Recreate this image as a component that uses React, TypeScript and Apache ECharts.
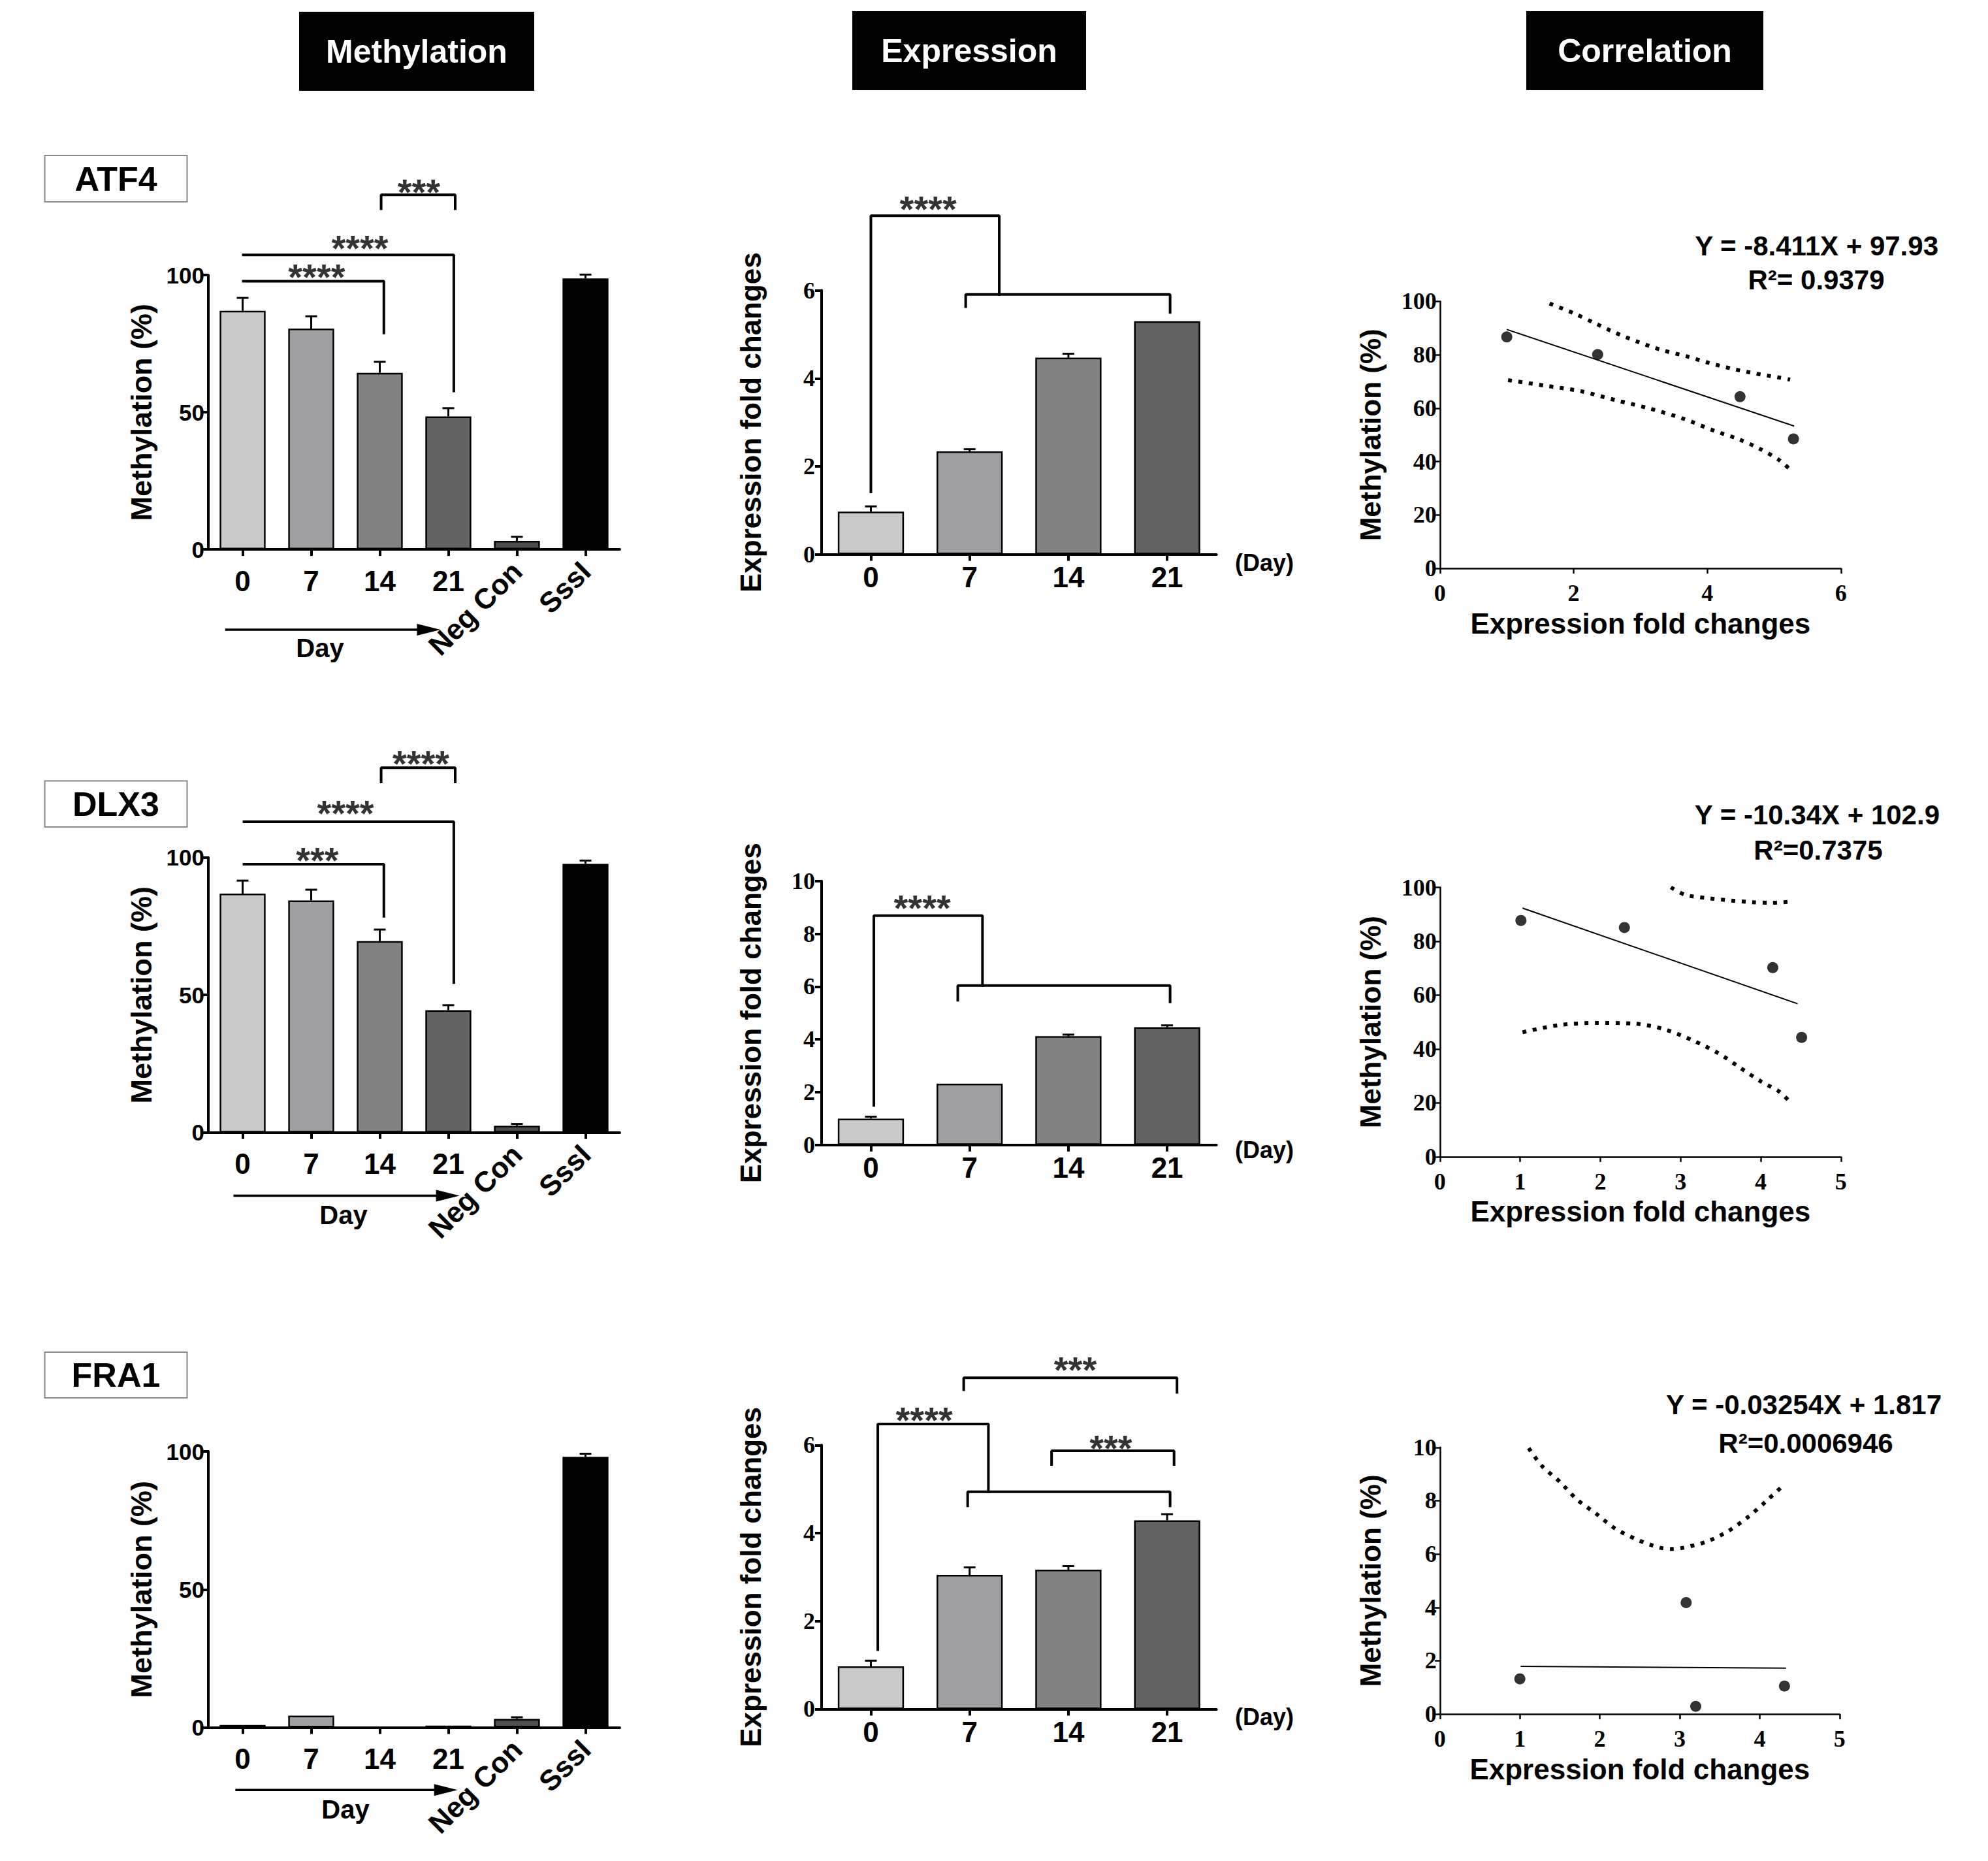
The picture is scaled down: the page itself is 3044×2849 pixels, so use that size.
import React, { useEffect, useRef } from "react";
import * as echarts from "echarts";

const FIG_W = 3044;
const FIG_H = 2849;
const SANS = "'Liberation Sans', Arial, Helvetica, sans-serif";
const SERIF = "'Liberation Serif', 'Times New Roman', serif";

// ---------------- DATA ----------------
const columnTitles = ["Methylation", "Expression", "Correlation"];
const geneNames = ["ATF4", "DLX3", "FRA1"];

const methylationCategories = ["0", "7", "14", "21", "Neg Con", "SssI"];
const expressionCategories = ["0", "7", "14", "21"];

const methylationTicks = [0, 50, 100];
const atf4ExpressionTicks = [0, 2, 4, 6];
const dlx3ExpressionTicks = [0, 2, 4, 6, 8, 10];
const fra1ExpressionTicks = [0, 2, 4, 6];
const atf4CorrXTicks = [0, 2, 4, 6];
const corrXTicks5 = [0, 1, 2, 3, 4, 5];
const corrYTicks100 = [0, 20, 40, 60, 80, 100];
const corrYTicks10 = [0, 2, 4, 6, 8, 10];

const atf4Methylation = [87.0, 80.5, 64.4, 48.5, 3.1, 98.8];
const atf4MethylationErr = [4.7, 4.5, 4.0, 3.0, 1.5, 1.4];
const dlx3Methylation = [86.9, 84.4, 69.6, 44.5, 2.4, 97.7];
const dlx3MethylationErr = [4.7, 3.9, 4.2, 1.8, 0.7, 1.2];
const fra1Methylation = [0.9, 4.3, 0.1, 0.7, 3.1, 98.1];
const fra1MethylationErr = [0, 0, 0, 0, 0.6, 1.1];

const atf4Expression = [0.97, 2.34, 4.47, 5.3];
const atf4ExpressionErr = [0.12, 0.05, 0.09, 0.0];
const dlx3Expression = [1.0, 2.32, 4.12, 4.46];
const dlx3ExpressionErr = [0.07, 0.0, 0.06, 0.07];
const fra1Expression = [0.97, 3.05, 3.17, 4.29];
const fra1ExpressionErr = [0.13, 0.17, 0.08, 0.14];

// significance brackets (x = category position, y = axis value)
const atf4MethBrackets = [
  [[2.02, 124.2], [2.02, 129.3], [3.1, 129.3], [3.1, 124.2]],
  [[0.01, 107.4], [3.08, 107.4], [3.08, 57.8]],
  [[0.01, 97.8], [2.06, 97.8], [2.06, 78.9]],
];
const atf4MethStars: [string, number, number][] = [["***", 2.57, 132.8], ["****", 1.71, 112.3], ["****", 1.08, 101.9]];
const dlx3MethBrackets = [
  [[2.02, 127.5], [2.02, 132.7], [3.1, 132.7], [3.1, 127.5]],
  [[0.02, 113.0], [3.08, 113.0], [3.08, 54.5]],
  [[0.02, 97.6], [2.06, 97.6], [2.06, 78.6]],
];
const dlx3MethStars: [string, number, number][] = [["****", 2.6, 136.6], ["****", 1.5, 118.5], ["***", 1.09, 101.6]];
const atf4ExprBrackets = [
  [[0, 1.42], [0, 7.7], [1.3, 7.7], [1.3, 5.91]],
  [[0.96, 5.63], [0.96, 5.91], [3.03, 5.91], [3.03, 5.5]],
];
const atf4ExprStars: [string, number, number][] = [["****", 0.58, 8.0]];
const dlx3ExprBrackets = [
  [[0.03, 1.5], [0.03, 8.69], [1.13, 8.69], [1.13, 6.04]],
  [[0.88, 5.48], [0.88, 6.04], [3.03, 6.04], [3.03, 5.42]],
];
const dlx3ExprStars: [string, number, number][] = [["****", 0.52, 9.23]];
const fra1ExprBrackets = [
  [[0.94, 7.26], [0.94, 7.53], [3.1, 7.53], [3.1, 7.2]],
  [[0.07, 1.35], [0.07, 6.48], [1.19, 6.48], [1.19, 4.94]],
  [[0.98, 4.62], [0.98, 4.94], [3.03, 4.94], [3.03, 4.62]],
  [[1.83, 5.56], [1.83, 5.87], [3.07, 5.87], [3.07, 5.56]],
];
const fra1ExprStars: [string, number, number][] = [["***", 2.07, 7.87], ["****", 0.54, 6.72], ["***", 2.43, 6.08]];

// correlation panels
const atf4CorrPoints = [[1.0, 86.7], [2.36, 80.1], [4.49, 64.3], [5.29, 48.5]];
const atf4CorrFit = [[1.0, 89.5], [5.3, 53.3]];
const atf4CorrUpper = [[1.64, 99.2], [1.99, 95.7], [2.28, 92.3], [2.63, 88.2], [2.98, 84.7], [3.33, 81.7], [3.68, 79.5], [4.02, 77.0], [4.37, 74.8], [4.72, 73.0], [5.07, 71.5], [5.24, 70.7]];
const atf4CorrLower = [[1.02, 70.5], [1.56, 68.5], [2.12, 66.3], [2.63, 63.0], [3.12, 60.0], [3.65, 56.0], [4.11, 51.5], [4.46, 48.5], [4.77, 45.0], [5.08, 40.5], [5.24, 37.0]];
const atf4Equation = ["Y = -8.411X + 97.93", "R²= 0.9379"];

const dlx3CorrPoints = [[1.01, 87.7], [2.3, 85.1], [4.15, 70.2], [4.51, 44.3]];
const dlx3CorrFit = [[1.03, 92.3], [4.46, 56.8]];
const dlx3CorrUpper = [[2.88, 100], [3.06, 97.2], [3.31, 96.1], [3.64, 95.1], [3.89, 94.5], [4.13, 94.3], [4.39, 94.7]];
const dlx3CorrLower = [[1.03, 46.2], [1.47, 48.8], [1.95, 49.7], [2.43, 49.4], [2.8, 47.3], [3.16, 43.1], [3.48, 38.3], [3.74, 33.1], [4.01, 27.8], [4.23, 24.2], [4.36, 20.5]];
const dlx3Equation = ["Y = -10.34X + 102.9", "R²=0.7375"];

const fra1CorrPoints = [[1.0, 1.32], [3.08, 4.18], [3.2, 0.29], [4.31, 1.05]];
const fra1CorrFit = [[1.01, 1.79], [4.33, 1.72]];
const fra1CorrUpper = [[1.11, 9.97], [1.28, 9.29], [1.5, 8.71], [1.72, 8.03], [1.96, 7.5], [2.19, 6.96], [2.46, 6.55], [2.75, 6.24], [2.91, 6.19], [3.05, 6.24], [3.35, 6.48], [3.61, 6.87], [3.86, 7.4], [4.08, 7.98], [4.29, 8.56]];
const fra1CorrLower: number[][] = [];
const fra1Equation = ["Y = -0.03254X + 1.817", "R²=0.0006946"];

// ---------------- STYLES ----------------
const barColors = ["#c9c9c9", "#9f9fa4", "#828282", "#626262", "#4d4d4d", "#000000"];

function buildOption() {
  const grid: any[] = [];
  const xAxis: any[] = [];
  const yAxis: any[] = [];
  const series: any[] = [];
  const graphic: any[] = [];

  function barPanel(p: any) {
    const g = grid.length;
    grid.push({ left: p.left, top: p.top, width: p.width, height: p.height });
    const xCat = xAxis.length;
    const labelBase = { interval: 0, margin: p.xLabelMargin, fontSize: p.xLabelSize, fontWeight: "bold", color: "#000", fontFamily: SANS };
    xAxis.push({
      type: "category", gridIndex: g, position: "bottom", data: p.cats,
      axisLine: { show: true, onZero: false, lineStyle: { color: "#000", width: 4 } },
      axisTick: { show: true, alignWithLabel: true, length: 10, lineStyle: { color: "#000", width: 4 } },
      axisLabel: { ...labelBase, formatter: (v: string, i: number) => (p.rotateFrom != null && i >= p.rotateFrom ? "" : v) },
    });
    if (p.rotateFrom != null) {
      xAxis.push({
        type: "category", gridIndex: g, position: "bottom", data: p.cats,
        axisLine: { show: false, onZero: false }, axisTick: { show: false },
        axisLabel: { ...labelBase, rotate: 45, formatter: (v: string, i: number) => (i >= p.rotateFrom ? v : "") },
      });
    }
    const xVal = xAxis.length;
    xAxis.push({ type: "value", gridIndex: g, position: "top", min: -0.5, max: p.cats.length - 0.5, show: false, axisLine: { onZero: false } });
    const y = yAxis.length;
    const t = p.yTicks;
    yAxis.push({
      type: "value", gridIndex: g, position: "left", min: t[0], max: t[t.length - 1], interval: t[1] - t[0],
      axisLine: { show: true, onZero: false, lineStyle: { color: "#000", width: 4 } },
      axisTick: { show: true, length: 10, lineStyle: { color: "#000", width: 4 } },
      splitLine: { show: false },
      axisLabel: { margin: p.yLabelMargin, fontSize: p.yLabelSize, fontWeight: "bold", color: "#000", fontFamily: p.yLabelFont, showMinLabel: true, showMaxLabel: true },
      name: p.yName, nameLocation: "middle", nameGap: p.yNameGap,
      nameTextStyle: { fontSize: p.yNameSize, fontWeight: "bold", color: "#000", fontFamily: SANS },
    });
    series.push({
      type: "bar", xAxisIndex: xCat, yAxisIndex: y, barCategoryGap: "33%",
      data: p.values.map((v: number, i: number) => ({ value: v, itemStyle: { color: barColors[i] } })),
      itemStyle: { borderColor: "#000", borderWidth: 2.5 },
      z: 2,
    });
    series.push({
      type: "custom", xAxisIndex: xCat, yAxisIndex: y, z: 4,
      data: p.values.map((v: number, i: number) => [i, v, p.errs[i]]),
      encode: { x: 0, y: 1 },
      renderItem: (_params: any, api: any) => {
        const e = api.value(2);
        if (!e) return { type: "group", children: [] };
        const x = api.value(0);
        const v = api.value(1);
        const a = api.coord([x, v]);
        const b = api.coord([x, v + e]);
        return {
          type: "group",
          children: [
            { type: "line", shape: { x1: a[0], y1: a[1], x2: b[0], y2: b[1] }, style: { stroke: "#000", lineWidth: 3 } },
            { type: "line", shape: { x1: b[0] - 9, y1: b[1], x2: b[0] + 9, y2: b[1] }, style: { stroke: "#000", lineWidth: 3 } },
          ],
        };
      },
    });
    p.brackets.forEach((br: number[][]) => {
      series.push({
        type: "line", xAxisIndex: xVal, yAxisIndex: y, data: br, symbol: "none", clip: false, silent: true, z: 5,
        lineStyle: { color: "#000", width: 4, cap: "square" },
      });
    });
    series.push({
      type: "scatter", xAxisIndex: xVal, yAxisIndex: y, clip: false, silent: true, z: 6,
      symbolSize: 1, itemStyle: { color: "rgba(0,0,0,0)" },
      data: p.stars.map((s: any) => ({ name: s[0], value: [s[1], s[2]] })),
      label: { show: true, position: "inside", formatter: (d: any) => d.name, fontSize: 56, fontWeight: "bold", color: "#000", fontFamily: SANS, offset: [0, 10] },
    });
  }

  function corrPanel(p: any) {
    const g = grid.length;
    grid.push({ left: p.left, top: p.top, width: p.width, height: p.height });
    const x = xAxis.length;
    const xt = p.xTicks;
    const yt = p.yTicks;
    xAxis.push({
      type: "value", gridIndex: g, position: "bottom", min: xt[0], max: xt[xt.length - 1], interval: xt[1] - xt[0],
      axisLine: { show: true, onZero: false, lineStyle: { color: "#000", width: 2.5 } },
      axisTick: { show: true, length: 8, lineStyle: { color: "#000", width: 2.5 } },
      splitLine: { show: false },
      axisLabel: { margin: 20, fontSize: 36, fontWeight: "bold", color: "#000", fontFamily: SERIF, showMinLabel: true, showMaxLabel: true },
      name: "Expression fold changes", nameLocation: "middle", nameGap: 62,
      nameTextStyle: { fontSize: 44, fontWeight: "bold", color: "#000", fontFamily: SANS },
    });
    const y = yAxis.length;
    yAxis.push({
      type: "value", gridIndex: g, position: "left", min: yt[0], max: yt[yt.length - 1], interval: yt[1] - yt[0],
      axisLine: { show: true, onZero: false, lineStyle: { color: "#000", width: 2.5 } },
      axisTick: { show: true, length: 8, lineStyle: { color: "#000", width: 2.5 } },
      splitLine: { show: false },
      axisLabel: { margin: 5, fontSize: 36, fontWeight: "bold", color: "#000", fontFamily: SERIF, showMinLabel: true, showMaxLabel: true },
      name: "Methylation (%)", nameLocation: "middle", nameGap: 84,
      nameTextStyle: { fontSize: 44, fontWeight: "bold", color: "#000", fontFamily: SANS },
    });
    const dotted = { color: "#000", width: 6, type: [6, 10] };
    series.push({ type: "line", xAxisIndex: x, yAxisIndex: y, data: p.fit, symbol: "none", lineStyle: { color: "#000", width: 2 }, z: 3 });
    if (p.upper.length) series.push({ type: "line", xAxisIndex: x, yAxisIndex: y, data: p.upper, symbol: "none", smooth: 0.3, lineStyle: dotted, z: 3 });
    if (p.lower.length) series.push({ type: "line", xAxisIndex: x, yAxisIndex: y, data: p.lower, symbol: "none", smooth: 0.3, lineStyle: dotted, z: 3 });
    series.push({ type: "scatter", xAxisIndex: x, yAxisIndex: y, data: p.points, symbol: "circle", symbolSize: 17, itemStyle: { color: "#000" }, z: 4 });
    graphic.push({ type: "text", x: p.eqRight, y: p.eqY, style: { text: p.eq[0], fill: "#000", fontSize: 42, fontWeight: "bold", fontFamily: SANS, align: "right", verticalAlign: "middle" } });
    graphic.push({ type: "text", x: p.r2X, y: p.r2Y, style: { text: p.eq[1], fill: "#000", fontSize: 42, fontWeight: "bold", fontFamily: SANS, align: "center", verticalAlign: "middle" } });
  }

  // ---- Methylation bars ----
  const methCommon = {
    left: 319, width: 630, cats: methylationCategories, rotateFrom: 4, yTicks: methylationTicks,
    xLabelSize: 44, xLabelMargin: 26, yLabelSize: 35, yLabelMargin: 6, yLabelFont: SANS,
    yName: "Methylation (%)", yNameGap: 80, yNameSize: 45,
  };
  barPanel({ ...methCommon, top: 421.2, height: 419.9, values: atf4Methylation, errs: atf4MethylationErr, brackets: atf4MethBrackets, stars: atf4MethStars });
  barPanel({ ...methCommon, top: 1312.8, height: 420.9, values: dlx3Methylation, errs: dlx3MethylationErr, brackets: dlx3MethBrackets, stars: dlx3MethStars });
  barPanel({ ...methCommon, top: 2222.1, height: 422.5, values: fra1Methylation, errs: fra1MethylationErr, brackets: [], stars: [] });

  // ---- Expression bars ----
  const exprCommon = {
    left: 1257.9, width: 604.8, cats: expressionCategories, yLabelFont: SERIF,
    xLabelSize: 44, xLabelMargin: 13, yLabelSize: 36, yLabelMargin: 10,
    yName: "Expression fold changes", yNameGap: 86, yNameSize: 44,
  };
  barPanel({ ...exprCommon, top: 444.6, height: 404, yTicks: atf4ExpressionTicks, values: atf4Expression, errs: atf4ExpressionErr, brackets: atf4ExprBrackets, stars: atf4ExprStars });
  barPanel({ ...exprCommon, top: 1348.7, height: 404.1, yTicks: dlx3ExpressionTicks, values: dlx3Expression, errs: dlx3ExpressionErr, brackets: dlx3ExprBrackets, stars: dlx3ExprStars });
  barPanel({ ...exprCommon, top: 2212.3, height: 404.1, yTicks: fra1ExpressionTicks, values: fra1Expression, errs: fra1ExpressionErr, brackets: fra1ExprBrackets, stars: fra1ExprStars });

  // ---- Correlations ----
  corrPanel({ left: 2204.8, top: 461.4, width: 614, height: 408.8, xTicks: atf4CorrXTicks, yTicks: corrYTicks100, points: atf4CorrPoints, fit: atf4CorrFit, upper: atf4CorrUpper, lower: atf4CorrLower, eq: atf4Equation, eqRight: 2968, eqY: 376, r2X: 2781, r2Y: 428.5 });
  corrPanel({ left: 2204.8, top: 1358.5, width: 614, height: 412.3, xTicks: corrXTicks5, yTicks: corrYTicks100, points: dlx3CorrPoints, fit: dlx3CorrFit, upper: dlx3CorrUpper, lower: dlx3CorrLower, eq: dlx3Equation, eqRight: 2970, eqY: 1247, r2X: 2784, r2Y: 1301 });
  corrPanel({ left: 2204.8, top: 2215.8, width: 612, height: 408.3, xTicks: corrXTicks5, yTicks: corrYTicks10, points: fra1CorrPoints, fit: fra1CorrFit, upper: fra1CorrUpper, lower: fra1CorrLower, eq: fra1Equation, eqRight: 2973, eqY: 2150, r2X: 2765, r2Y: 2209 });

  // ---- column headers ----
  const headerBoxes = [[458, 18, 360, 121], [1305, 17, 358, 121], [2337, 17, 363, 121]];
  headerBoxes.forEach((b, i) => {
    graphic.push({ type: "rect", shape: { x: b[0], y: b[1], width: b[2], height: b[3] }, style: { fill: "#000" } });
    graphic.push({ type: "text", x: b[0] + b[2] / 2, y: b[1] + b[3] / 2, style: { text: columnTitles[i], fill: "#fff", fontSize: 50, fontWeight: "bold", fontFamily: SANS, align: "center", verticalAlign: "middle" } });
  });

  // ---- gene boxes ----
  const geneBoxTops = [[238, 71], [1195.6, 70.5], [2070, 70]];
  geneBoxTops.forEach((b, i) => {
    graphic.push({ type: "rect", shape: { x: 68.5, y: b[0], width: 218, height: b[1] }, style: { fill: "#fff", stroke: "#8a8a8a", lineWidth: 2 } });
    graphic.push({ type: "text", x: 177.5, y: b[0] + b[1] / 2, style: { text: geneNames[i], fill: "#000", fontSize: 52, fontWeight: "bold", fontFamily: SANS, align: "center", verticalAlign: "middle" } });
  });

  // ---- Day arrows under methylation panels ----
  const arrows = [
    { x1: 344.7, x2: 674.5, y: 964, tx: 490, ty: 992 },
    { x1: 357.5, x2: 703.6, y: 1830.6, tx: 526, ty: 1860 },
    { x1: 360.4, x2: 700.7, y: 2740.2, tx: 529, ty: 2770 },
  ];
  arrows.forEach((a) => {
    graphic.push({ type: "line", shape: { x1: a.x1, y1: a.y, x2: a.x2 - 30, y2: a.y }, style: { stroke: "#000", lineWidth: 3.5 } });
    graphic.push({ type: "polygon", shape: { points: [[a.x2 - 36, a.y - 9], [a.x2 - 36, a.y + 9], [a.x2, a.y]] }, style: { fill: "#000" } });
    graphic.push({ type: "text", x: a.tx, y: a.ty, style: { text: "Day", fill: "#000", fontSize: 40, fontWeight: "bold", fontFamily: SANS, align: "center", verticalAlign: "middle" } });
  });

  // ---- (Day) labels beside expression axes ----
  [861, 1760, 2628].forEach((y) => {
    graphic.push({ type: "text", x: 1936, y, style: { text: "(Day)", fill: "#000", fontSize: 36, fontWeight: "bold", fontFamily: SANS, align: "center", verticalAlign: "middle" } });
  });

  return {
    animation: false,
    backgroundColor: "#fff",
    textStyle: { fontFamily: SANS },
    grid, xAxis, yAxis, series, graphic,
  };
}

export default function App() {
  const ref = useRef<HTMLDivElement>(null);
  useEffect(() => {
    document.body.style.margin = "0";
    if (!ref.current) return;
    const chart = echarts.init(ref.current, undefined, { renderer: "svg" });
    chart.setOption(buildOption() as any);
    return () => chart.dispose();
  }, []);
  return <div ref={ref} style={{ width: FIG_W, height: FIG_H }} />;
}
